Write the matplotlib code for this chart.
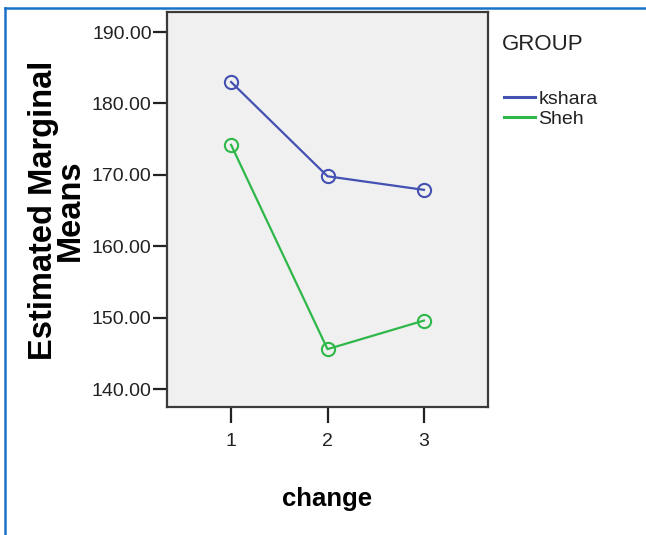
import matplotlib
matplotlib.use("Agg")
import matplotlib.pyplot as plt
from matplotlib.lines import Line2D
from matplotlib import font_manager

# ---- data ----
change_levels = [1, 2, 3]
kshara_means = [183.0, 169.8, 167.9]
sheh_means = [174.2, 145.6, 149.6]
group_names = ["kshara", "Sheh"]
y_ticks = [140, 150, 160, 170, 180, 190]

names = {f.name for f in font_manager.fontManager.ttflist}
narrow = ["Liberation Sans Narrow", "Liberation Sans", "DejaVu Sans"]
narrow = [n for n in narrow if n in names] or ["DejaVu Sans"]
regular = ["Liberation Sans", "DejaVu Sans"]

W, H = 646, 535
fig = plt.figure(figsize=(W / 100, H / 100), dpi=100)
fig.patch.set_facecolor("white")

ax = fig.add_axes([167 / W, 1 - 407 / H, (488 - 167) / W, (407 - 12) / H])
ax.set_facecolor("#f0f0f0")

blue = "#4451b2"
green = "#2fb84a"
ax.plot(change_levels, kshara_means, color=blue, lw=1.6, marker="o", ms=9.5,
        mfc="none", mec=blue, mew=1.5, label=group_names[0])
ax.plot(change_levels, sheh_means, color=green, lw=1.6, marker="o", ms=9.5,
        mfc="none", mec=green, mew=1.5, label=group_names[1])

ax.set_xlim(0.335, 3.665)
ax.set_ylim(137.5, 192.8)
ax.set_xticks(change_levels)
ax.set_xticklabels([str(v) for v in change_levels])
ax.set_yticks(y_ticks)
ax.set_yticklabels([f"{v:.2f}" for v in y_ticks])

for s in ax.spines.values():
    s.set_color("#3a3a3a")
    s.set_linewidth(1.6)

ax.tick_params(axis="y", length=10, width=1.6, pad=1, color="#222222")
ax.tick_params(axis="x", length=11.5, width=1.6, pad=7, color="#222222")
for lab in ax.get_yticklabels() + ax.get_xticklabels():
    lab.set_family(narrow)
    lab.set_fontsize(14)
    lab.set_color("#222222")

ax.set_xlabel("change", family=narrow, fontweight="bold", fontsize=18.5, labelpad=27)
fig.text(57 / W, 1 - 210 / H, "Estimated Marginal\nMeans", rotation=90,
         ha="center", va="center", multialignment="center",
         family=regular, fontweight="bold", fontsize=23.5, linespacing=0.8)

# legend
fig.text(502 / W, 1 - 45 / H, "GROUP", family=narrow, fontsize=16,
         ha="left", va="center", color="#222222")
leg = fig.legend(loc="upper left", bbox_to_anchor=(490 / W, 1 - 77 / H),
                 frameon=False, prop={"family": narrow, "size": 14},
                 handlelength=1.6, handletextpad=0.2, labelspacing=0.1,
                 borderpad=0.2)
for h in leg.legend_handles:
    h.set_marker("")
    h.set_linewidth(2.2)
for t in leg.get_texts():
    t.set_color("#222222")

# blue frame (top and left)
fig.add_artist(Line2D([5 / W, 5 / W], [0, 1 - 8 / H], transform=fig.transFigure,
                      color="#1a72c8", lw=1.8))
fig.add_artist(Line2D([5 / W, 1], [1 - 8 / H, 1 - 8 / H], transform=fig.transFigure,
                      color="#1a72c8", lw=1.8))

fig.savefig("out.png", dpi=100)
